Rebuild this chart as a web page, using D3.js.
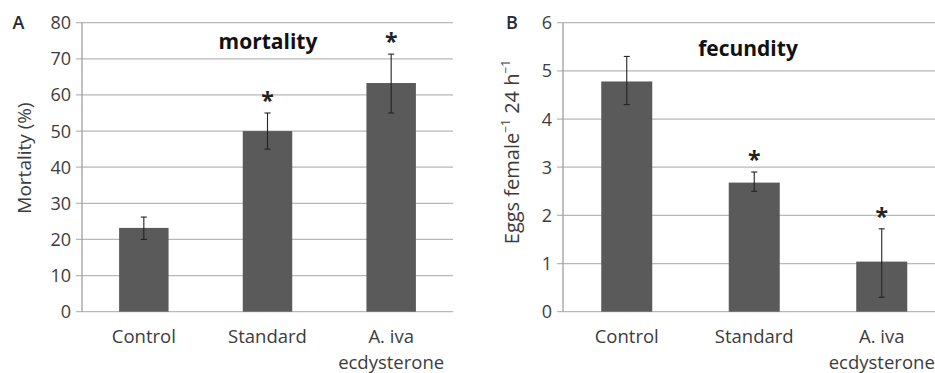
<!DOCTYPE html>
<html>
<head>
<meta charset="utf-8">
<script src="https://cdn.jsdelivr.net/npm/d3@7"></script>
<style>
  body { margin: 0; background: #fff; }
  svg { display: block; font-family: "Open Sans", sans-serif; }
</style>
</head>
<body>
<svg id="chart" width="935" height="373"></svg>
<script>
// data
const groups = ["Control", "Standard", "A. iva\necdysterone"];
const mortality = [23.2, 50, 63.3];
const mortalityErr = [[20, 26.2], [45, 55], [55, 71.3]];
const mortalitySig = [false, true, true];
const mortalityTicks = [0, 10, 20, 30, 40, 50, 60, 70, 80];

const fecundity = [4.78, 2.68, 1.04];
const fecundityErr = [[4.3, 5.3], [2.5, 2.9], [0.3, 1.72]];
const fecunditySig = [false, true, true];
const fecundityTicks = [0, 1, 2, 3, 4, 5, 6];

const svg = d3.select("#chart");
const textColor = "#3c3c3c";

function drawPanel(opts) {
    const { left, right, top, bottom, values, errs, sig, ticks, title, titleX, titleY, letter, letterX } = opts;

    const x = d3.scaleBand()
        .domain(groups)
        .range([left, right])
        .paddingInner(0.6)
        .paddingOuter(0.3);

    const y = d3.scaleLinear()
        .domain([0, d3.max(ticks)])
        .range([bottom, top]);

    const g = svg.append("g");

    // gridlines
    g.selectAll(".grid")
        .data(ticks)
        .enter().append("line")
        .attr("x1", left - 6)
        .attr("x2", right)
        .attr("y1", d => y(d))
        .attr("y2", d => y(d))
        .attr("stroke", "#b8b8b8")
        .attr("stroke-width", 1.3);

    // y axis line
    g.append("line")
        .attr("x1", left).attr("x2", left)
        .attr("y1", y(d3.max(ticks))).attr("y2", y(0))
        .attr("stroke", "#a0a0a0")
        .attr("stroke-width", 1.3);

    // tick labels
    g.selectAll(".ytick")
        .data(ticks)
        .enter().append("text")
        .attr("x", left - 11)
        .attr("y", d => y(d))
        .attr("dy", "0.36em")
        .attr("text-anchor", "end")
        .attr("font-size", 18)
        .attr("fill", textColor)
        .text(d => d);

    // bars
    g.selectAll(".bar")
        .data(values)
        .enter().append("rect")
        .attr("x", (d, i) => x(groups[i]))
        .attr("y", d => y(d))
        .attr("width", x.bandwidth())
        .attr("height", d => y(0) - y(d))
        .attr("fill", "#5a5a5a");

    // error bars
    const cx = i => x(groups[i]) + x.bandwidth() / 2;
    const eb = g.selectAll(".err")
        .data(errs)
        .enter().append("g")
        .attr("stroke", "#222")
        .attr("stroke-width", 1.1);
    eb.append("line")
        .attr("x1", (d, i) => cx(i)).attr("x2", (d, i) => cx(i))
        .attr("y1", d => y(d[0])).attr("y2", d => y(d[1]));
    eb.append("line")
        .attr("x1", (d, i) => cx(i) - 3).attr("x2", (d, i) => cx(i) + 3)
        .attr("y1", d => y(d[0])).attr("y2", d => y(d[0]));
    eb.append("line")
        .attr("x1", (d, i) => cx(i) - 3).attr("x2", (d, i) => cx(i) + 3)
        .attr("y1", d => y(d[1])).attr("y2", d => y(d[1]));

    // asterisks above the significant bars
    g.selectAll(".star")
        .data(errs.map((d, i) => ({ top: d[1], i })).filter(d => sig[d.i]))
        .enter().append("text")
        .attr("x", d => cx(d.i))
        .attr("y", d => y(d.top) - 4)
        .attr("text-anchor", "middle")
        .attr("font-size", 23)
        .attr("font-weight", "bold")
        .attr("fill", "#222")
        .text("*");

    // category labels
    groups.forEach((name, i) => {
        const t = g.append("text")
            .attr("x", cx(i))
            .attr("y", bottom + 31)
            .attr("text-anchor", "middle")
            .attr("font-size", 18.5)
            .attr("fill", textColor);
        name.split("\n").forEach((ln, k) => {
            t.append("tspan")
                .attr("x", cx(i))
                .attr("dy", k === 0 ? 0 : 26)
                .text(ln);
        });
    });

    // title
    g.append("text")
        .attr("x", titleX)
        .attr("y", titleY)
        .attr("text-anchor", "middle")
        .attr("font-size", 21)
        .attr("font-weight", "bold")
        .attr("fill", "#111")
        .text(title);

    // panel letter
    g.append("text")
        .attr("x", letterX)
        .attr("y", top + 6.5)
        .attr("text-anchor", "middle")
        .attr("font-size", 18)
        .attr("font-weight", 600)
        .attr("fill", "#2a2a2a")
        .text(letter);

    return g;
}

const gA = drawPanel({
    left: 82, right: 453, top: 22.7, bottom: 311.7,
    values: mortality, errs: mortalityErr, sig: mortalitySig, ticks: mortalityTicks,
    title: "mortality", titleX: 268, titleY: 49,
    letter: "A", letterX: 18.5
});

gA.append("text")
    .attr("transform", "translate(31,158) rotate(-90)")
    .attr("text-anchor", "middle")
    .attr("font-size", 19)
    .attr("fill", textColor)
    .text("Mortality (%)");

const gB = drawPanel({
    left: 563, right: 945.5, top: 22.7, bottom: 311.7,
    values: fecundity, errs: fecundityErr, sig: fecunditySig, ticks: fecundityTicks,
    title: "fecundity", titleX: 748, titleY: 56,
    letter: "B", letterX: 512
});

const yl = gB.append("text")
    .attr("transform", "translate(519,152) rotate(-90)")
    .attr("text-anchor", "middle")
    .attr("font-size", 20)
    .attr("fill", textColor);
yl.append("tspan").text("Eggs female");
yl.append("tspan").attr("dy", -9).attr("font-size", 12).text("\u22121");
yl.append("tspan").attr("dy", 9).text(" 24 h");
yl.append("tspan").attr("dy", -9).attr("font-size", 12).text("\u22121");
</script>
</body>
</html>
